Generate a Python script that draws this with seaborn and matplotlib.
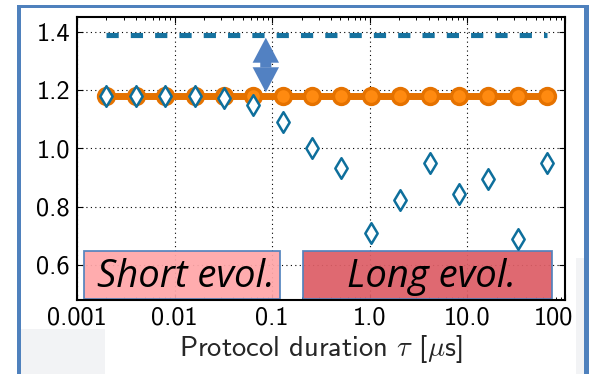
import matplotlib
matplotlib.use("Agg")
import matplotlib.pyplot as plt
import matplotlib.transforms as mtransforms
import seaborn as sns
import pandas as pd
from matplotlib.patches import Rectangle, FancyArrowPatch
from matplotlib.ticker import FixedLocator, LogLocator, NullFormatter

# Protocol durations (microseconds) and the three curves
tau_us = [0.002, 0.004, 0.008, 0.016, 0.032, 0.064, 0.128, 0.256,
          0.512, 1.024, 2.048, 4.096, 8.192, 16.384, 32.768, 65.536]
measured = [1.18, 1.18, 1.18, 1.18, 1.172, 1.148, 1.089, 1.00,
            0.932, 0.708, 0.822, 0.950, 0.845, 0.896, 0.690, 0.950]
bound_level = 1.18
ideal_level = 1.39
bound = [bound_level for _ in tau_us]
ideal = [ideal_level for _ in tau_us]

xtick_values = [0.001, 0.01, 0.1, 1.0, 10.0, 100.0]
xtick_labels = ["0.001", "0.01", "0.1", "1.0", "10.0", "100"]
ytick_values = [0.6, 0.8, 1.0, 1.2, 1.4]
ytick_labels = ["0.6", "0.8", "1.0", "1.2", "1.4"]
xlabel = r"Protocol duration $\tau$ [$\mu$s]"
short_label = "Short evol."
long_label = "Long evol."

df = pd.DataFrame({"tau": tau_us, "measured": measured,
                   "bound": bound, "ideal": ideal})

sns.set_style("ticks")
plt.rcParams.update({
    "font.family": ["cmss10", "DejaVu Sans"],
    "mathtext.fontset": "cm",
    "axes.formatter.use_mathtext": True,
    "axes.unicode_minus": False,
    "lines.scale_dashes": False,
})

W, H = 591, 374
fig = plt.figure(figsize=(W / 100, H / 100), dpi=100)
fig.patch.set_facecolor("white")

# slide decorations around the plot
frame_blue = "#4F81BD"
def px_rect(x0, y0, x1, y1, color, z=0):
    fig.patches.append(Rectangle((x0 / W, 1 - y1 / H), (x1 - x0) / W, (y1 - y0) / H,
                                 transform=fig.transFigure, facecolor=color,
                                 edgecolor="none", zorder=z))
px_rect(21, 329, 105, 374, "#F2F3F5")
px_rect(576, 258, 584, 374, "#F2F3F5")
px_rect(17, 5, 589, 8, frame_blue)
px_rect(17, 5, 21, 374, frame_blue)
px_rect(584, 5, 589, 374, frame_blue)

ax = fig.add_axes([77 / W, 1 - 300 / H, (565 - 77) / W, (300 - 17) / H])
ax.set_facecolor("white")

orange_edge = "#E57200"
orange_face = "#FF8A10"
blue = "#0E6F9C"

sns.lineplot(data=df, x="tau", y="ideal", ax=ax, color="#16729F", linewidth=3.7,
             zorder=3)
ideal_line = ax.lines[-1]
ideal_line.set_linestyle((0, (8.8, 8.7)))
ideal_line.set_dash_capstyle("butt")

sns.lineplot(data=df, x="tau", y="bound", ax=ax, color=orange_edge, linewidth=5,
             marker="o", markersize=11.5, markerfacecolor=orange_face,
             markeredgecolor=orange_edge, markeredgewidth=2.4, zorder=4)
sns.scatterplot(data=df, x="tau", y="measured", ax=ax, marker="d", s=110,
                facecolor="white", edgecolor=blue, linewidth=1.8, zorder=5)

ax.set_xscale("log")
ax.set_xlim(0.001, 100)
ax.set_ylim(0.48, 1.45)
ax.xaxis.set_major_locator(FixedLocator(xtick_values))
ax.set_xticklabels(xtick_labels)
ax.xaxis.set_minor_locator(LogLocator(base=10, subs=range(2, 10), numticks=20))
ax.xaxis.set_minor_formatter(NullFormatter())
ax.set_yticks(ytick_values)
ax.set_yticklabels(ytick_labels)

ax.tick_params(which="both", direction="in", top=True, right=True,
               labelsize=19, colors="black")
ax.tick_params(which="major", length=4.5, width=0.8, pad=5)
ax.tick_params(which="minor", length=2.3, width=0.7)
for s in ax.spines.values():
    s.set_linewidth(1.5)
    s.set_color("black")
ax.grid(True, which="major", linestyle=(0, (0.8, 2.4)), color="black", lw=0.8)

# last x label sits slightly inside the right edge
last = ax.get_xticklabels()[-1]
last.set_transform(last.get_transform() +
                   mtransforms.ScaledTranslation(-12 / 100, 0, fig.dpi_scale_trans))

ax.set_xlabel(xlabel, fontsize=20.5, labelpad=2)
ax.set_ylabel("")

# gap indicator between the ideal and bounded levels (two filled heads)
arrow_x = 0.086
arrow_mid = 1.277
for tip in (1.379, 1.192):
    ax.add_patch(FancyArrowPatch((arrow_x, arrow_mid), (arrow_x, tip),
                                 arrowstyle="simple,head_length=18,head_width=19,tail_width=8",
                                 mutation_scale=1, color="#5281C2", lw=0,
                                 shrinkA=0, shrinkB=0, zorder=6))

# regime boxes
for (x0, x1, face, label, cx) in [
        (0.014, 0.416, "#FFA6A8", short_label, 0.224),
        (0.463, 0.973, "#DD5E66", long_label, 0.727)]:
    ax.add_patch(Rectangle((x0, 0.004), x1 - x0, 0.169, transform=ax.transAxes,
                           facecolor=face, edgecolor=frame_blue, lw=1.3,
                           alpha=0.93, zorder=1, clip_on=False))
    ax.text(cx, 0.08, label, transform=ax.transAxes, ha="center", va="center",
            fontsize=27.5, style="italic", family=["Open Sans", "DejaVu Sans"],
            color="black", zorder=7)

fig.savefig("out.png", dpi=100)
